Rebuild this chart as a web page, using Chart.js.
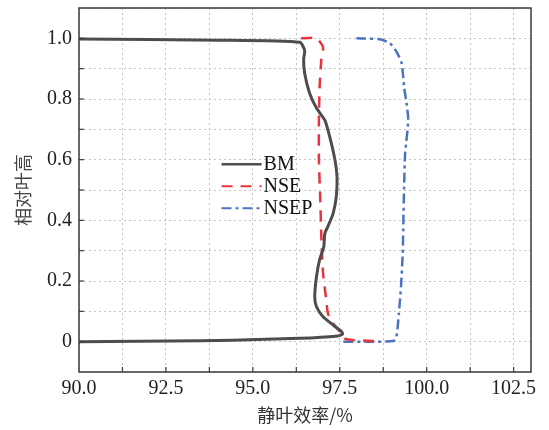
<!DOCTYPE html>
<html><head><meta charset="utf-8">
<script src="https://cdn.jsdelivr.net/npm/chart.js@4/dist/chart.umd.min.js"></script>
<style>html,body{margin:0;padding:0;background:#fff}#wrap{width:549px;height:430px}</style>
</head><body><div id="wrap"><canvas id="c"></canvas></div>
<script>
const seriesNames = ['BM', 'NSE', 'NSEP'];
const bmEff    = [90.0, 93.5, 94.4, 96.35, 97.45, 97.58, 97.55, 97.31, 97.02, 96.83, 96.78, 96.83, 96.92, 97.04, 97.07, 97.16, 97.31, 97.4, 97.42, 97.36, 97.21, 97.07, 96.83, 96.63, 96.49, 96.46, 96.49, 96.35, 94.0, 90.0];
const bmHeight = [0.0, 0.003, 0.005, 0.011, 0.019, 0.025, 0.033, 0.055, 0.082, 0.115, 0.148, 0.214, 0.27, 0.313, 0.357, 0.38, 0.423, 0.478, 0.544, 0.6, 0.676, 0.73, 0.77, 0.82, 0.885, 0.93, 0.96, 0.987, 0.994, 0.998];
const nseEff    = [96.39, 96.83, 97.02, 96.97, 96.92, 96.9, 96.9, 96.94, 96.97, 97.02, 97.1, 97.16, 97.31, 97.5, 97.65, 97.9, 98.3, 98.65];
const nseHeight = [1.0, 1.0, 0.97, 0.93, 0.84, 0.73, 0.6, 0.467, 0.346, 0.225, 0.148, 0.093, 0.06, 0.033, 0.01, 0.005, 0.003, 0.002];
const nsepEff    = [97.6, 98.3, 99.04, 99.13, 99.2, 99.26, 99.31, 99.33, 99.35, 99.38, 99.47, 99.42, 99.35, 99.28, 99.13, 98.94, 98.65, 97.98];
const nsepHeight = [0.0, 0.0, 0.002, 0.016, 0.093, 0.18, 0.29, 0.4, 0.51, 0.62, 0.73, 0.786, 0.84, 0.918, 0.956, 0.984, 0.997, 1.0];
const xTitle = '静叶效率/%';
const yTitle = '相对叶高';

const pts = (xs, ys) => xs.map((x, i) => ({x, y: ys[i]}));
const SERIF = '"Liberation Serif","Times New Roman",serif';
const styles = [
  {color: '#4d4d4d', width: 3, dash: []},
  {color: '#e8343c', width: 2.5, dash: [11, 8]},
  {color: '#4a74c0', width: 2.5, dash: [10, 4, 3, 4]}
];

const framePlugin = {
  id: 'frame',
  afterDraw(chart) {
    const {ctx, chartArea: a, scales} = chart;
    ctx.save();
    ctx.strokeStyle = '#3a3a3a'; ctx.lineWidth = 1.5; ctx.setLineDash([]);
    ctx.strokeRect(a.left, a.top, a.right - a.left, a.bottom - a.top);
    ctx.lineWidth = 1.2;
    scales.x.ticks.forEach(t => {
      const px = scales.x.getPixelForValue(t.value);
      if (px <= a.left + 1 || px >= a.right - 1) return;
      ctx.beginPath(); ctx.moveTo(px, a.bottom); ctx.lineTo(px, a.bottom - 5); ctx.stroke();
    });
    scales.y.ticks.forEach(t => {
      const py = scales.y.getPixelForValue(t.value);
      if (py <= a.top + 1 || py >= a.bottom - 1) return;
      ctx.beginPath(); ctx.moveTo(a.left, py); ctx.lineTo(a.left + 5, py); ctx.stroke();
    });
    // legend
    const lx = scales.x.getPixelForValue(94.1), ly0 = scales.y.getPixelForValue(0.585);
    ctx.font = '20px ' + SERIF; ctx.textBaseline = 'middle'; ctx.fillStyle = '#111';
    seriesNames.forEach((n, i) => {
      const y = ly0 + i * 22;
      const s = styles[i];
      ctx.strokeStyle = s.color; ctx.lineWidth = s.width - 0.5; ctx.setLineDash(s.dash);
      ctx.beginPath(); ctx.moveTo(lx, y); ctx.lineTo(lx + 40, y); ctx.stroke();
      ctx.setLineDash([]);
      ctx.fillText(n, lx + 42, y + 1);
    });
    ctx.restore();
  }
};

new Chart(document.getElementById('c'), {
  type: 'scatter',
  data: {
    datasets: [
      {label: seriesNames[0], data: pts(bmEff, bmHeight)},
      {label: seriesNames[1], data: pts(nseEff, nseHeight)},
      {label: seriesNames[2], data: pts(nsepEff, nsepHeight)}
    ].map((d, i) => Object.assign(d, {
      showLine: true, pointRadius: 0, borderColor: styles[i].color,
      borderWidth: styles[i].width, borderDash: styles[i].dash, tension: 0.2, fill: false
    }))
  },
  options: {
    responsive: true, maintainAspectRatio: false, animation: false,
    layout: {padding: {left: 0, right: 18, top: 8, bottom: 0}},
    plugins: {legend: {display: false}, tooltip: {enabled: false}},
    scales: {
      x: {
        type: 'linear', min: 90, max: 103,
        afterFit: s => { s.height = 58; s.paddingLeft = 0; s.paddingRight = 0; },
        ticks: {stepSize: 1.25, includeBounds: false, autoSkip: false, maxRotation: 0, color: '#222', padding: 5,
          font: {family: SERIF, size: 20},
          callback: v => (Math.abs(v / 2.5 - Math.round(v / 2.5)) < 1e-6) ? v.toFixed(1) : ''},
        grid: {color: '#c4c4c4', lineWidth: 1, drawTicks: false},
        border: {display: false, dash: [2, 3]},
        title: {display: true, text: xTitle, color: '#333', font: {family: '"Noto Sans CJK SC"', size: 18}, padding: {top: 6}}
      },
      y: {
        type: 'linear', min: -0.1, max: 1.1,
        afterFit: s => { s.width = 79; s.paddingTop = 0; s.paddingBottom = 0; },
        ticks: {stepSize: 0.1, autoSkip: false, color: '#222', padding: 7,
          font: {family: SERIF, size: 20},
          callback: v => { const k = Math.round(v * 10); if (k % 2 !== 0) return ''; return k === 0 ? '0' : (k / 10).toFixed(1); }},
        grid: {color: '#c4c4c4', lineWidth: 1, drawTicks: false},
        border: {display: false, dash: [2, 3]},
        title: {display: true, text: yTitle, color: '#444', font: {family: '"Noto Sans CJK SC"', size: 18}, padding: {top: 12, bottom: 4}}
      }
    }
  },
  plugins: [framePlugin]
});
</script></body></html>
